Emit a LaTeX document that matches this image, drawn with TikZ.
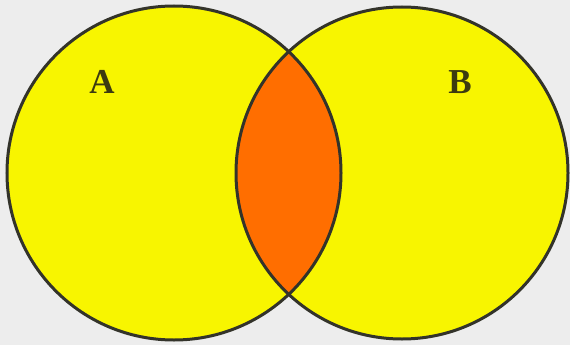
\documentclass[tikz,border=0pt]{standalone}
\usepackage{fontspec}
\setmainfont{Liberation Serif}
\definecolor{bg}{HTML}{EDEDED}
\definecolor{vyellow}{HTML}{F8F500}
\definecolor{vorange}{HTML}{FF6E00}
\definecolor{vline}{HTML}{33332A}
\definecolor{vtext}{HTML}{3C3A10}
\tikzset{
  setcircle/.style={draw=vline, line width=3pt},
  setlabel/.style={text=vtext, font=\bfseries\fontsize{35}{40}\selectfont, inner sep=0pt}
}
\begin{document}
\begin{tikzpicture}[x=1pt,y=-1pt]
\fill[bg] (0,0) rectangle (570,345);
\useasboundingbox (0,0) rectangle (570,345);
\coordinate (ca) at (174,173);
\coordinate (cb) at (402,173);
\fill[vyellow] (ca) circle[radius=167];
\fill[vyellow] (cb) circle[radius=166];
\begin{scope}
  \clip (ca) circle[radius=167];
  \fill[vorange] (cb) circle[radius=166];
\end{scope}
\draw[setcircle] (ca) circle[radius=167];
\draw[setcircle] (cb) circle[radius=166];
\node[setlabel] (la) at (102,82) {A};
\node[setlabel] (lb) at (460,82) {B};
\end{tikzpicture}
\end{document}
